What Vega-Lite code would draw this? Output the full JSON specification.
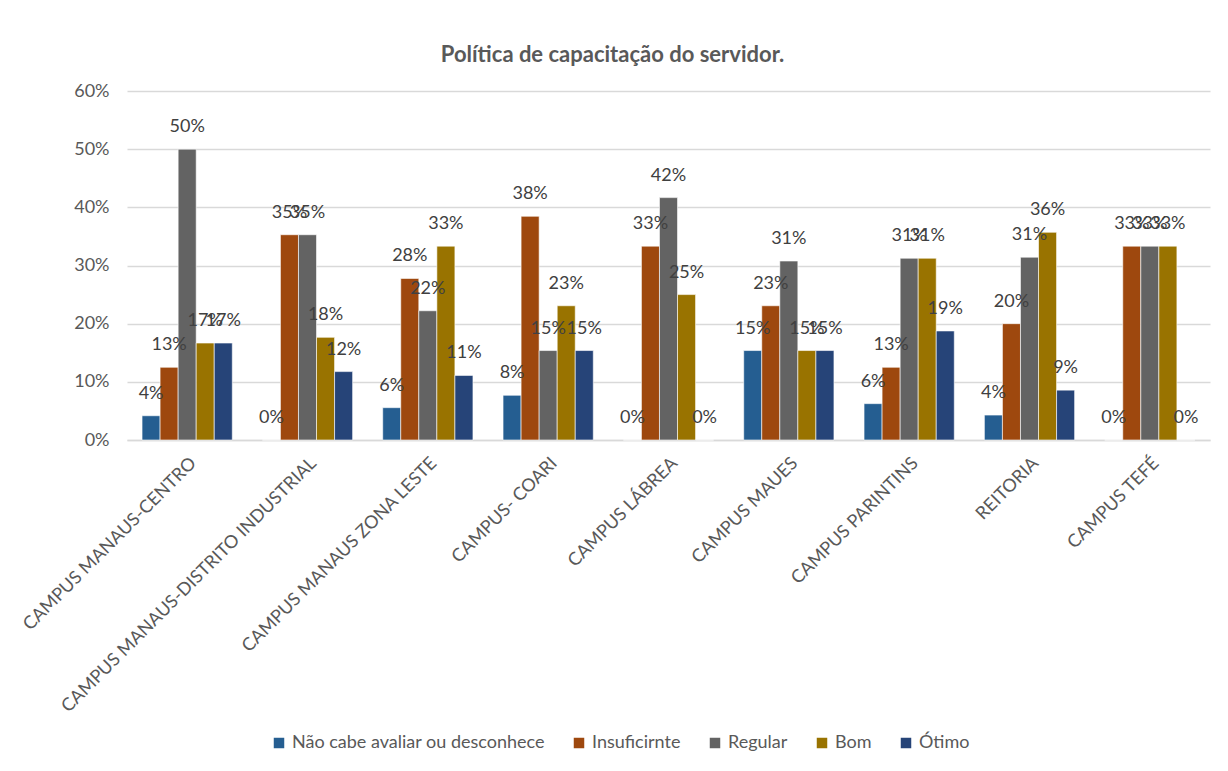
{
  "$schema": "https://vega.github.io/schema/vega-lite/v6.json",
  "width": 1083,
  "height": 349,
  "autosize": {"type": "none"},
  "padding": {"left": 127, "top": 91, "right": 18, "bottom": 331},
  "background": "white",
  "config": {
    "font": "Lato",
    "view": {"stroke": null}
  },
  "title": {
    "text": "Política de capacitação do servidor.",
    "font": "Lato",
    "fontSize": 22,
    "fontWeight": "bold",
    "color": "#595959",
    "anchor": "middle",
    "frame": "group",
    "dx": -56,
    "offset": 15
  },
  "data": {
    "values": [
      {"campus": "CAMPUS MANAUS-CENTRO", "serie": "Não cabe avaliar ou desconhece", "valor": 0.0417},
      {"campus": "CAMPUS MANAUS-CENTRO", "serie": "Insuficirnte", "valor": 0.125},
      {"campus": "CAMPUS MANAUS-CENTRO", "serie": "Regular", "valor": 0.5},
      {"campus": "CAMPUS MANAUS-CENTRO", "serie": "Bom", "valor": 0.1667},
      {"campus": "CAMPUS MANAUS-CENTRO", "serie": "Ótimo", "valor": 0.1667},
      {"campus": "CAMPUS MANAUS-DISTRITO INDUSTRIAL", "serie": "Não cabe avaliar ou desconhece", "valor": 0},
      {"campus": "CAMPUS MANAUS-DISTRITO INDUSTRIAL", "serie": "Insuficirnte", "valor": 0.3529},
      {"campus": "CAMPUS MANAUS-DISTRITO INDUSTRIAL", "serie": "Regular", "valor": 0.3529},
      {"campus": "CAMPUS MANAUS-DISTRITO INDUSTRIAL", "serie": "Bom", "valor": 0.1765},
      {"campus": "CAMPUS MANAUS-DISTRITO INDUSTRIAL", "serie": "Ótimo", "valor": 0.1176},
      {"campus": "CAMPUS MANAUS ZONA LESTE", "serie": "Não cabe avaliar ou desconhece", "valor": 0.0556},
      {"campus": "CAMPUS MANAUS ZONA LESTE", "serie": "Insuficirnte", "valor": 0.2778},
      {"campus": "CAMPUS MANAUS ZONA LESTE", "serie": "Regular", "valor": 0.2222},
      {"campus": "CAMPUS MANAUS ZONA LESTE", "serie": "Bom", "valor": 0.3333},
      {"campus": "CAMPUS MANAUS ZONA LESTE", "serie": "Ótimo", "valor": 0.1111},
      {"campus": "CAMPUS- COARI", "serie": "Não cabe avaliar ou desconhece", "valor": 0.0769},
      {"campus": "CAMPUS- COARI", "serie": "Insuficirnte", "valor": 0.3846},
      {"campus": "CAMPUS- COARI", "serie": "Regular", "valor": 0.1538},
      {"campus": "CAMPUS- COARI", "serie": "Bom", "valor": 0.2308},
      {"campus": "CAMPUS- COARI", "serie": "Ótimo", "valor": 0.1538},
      {"campus": "CAMPUS LÁBREA", "serie": "Não cabe avaliar ou desconhece", "valor": 0},
      {"campus": "CAMPUS LÁBREA", "serie": "Insuficirnte", "valor": 0.3333},
      {"campus": "CAMPUS LÁBREA", "serie": "Regular", "valor": 0.4167},
      {"campus": "CAMPUS LÁBREA", "serie": "Bom", "valor": 0.25},
      {"campus": "CAMPUS LÁBREA", "serie": "Ótimo", "valor": 0},
      {"campus": "CAMPUS MAUES", "serie": "Não cabe avaliar ou desconhece", "valor": 0.1538},
      {"campus": "CAMPUS MAUES", "serie": "Insuficirnte", "valor": 0.2308},
      {"campus": "CAMPUS MAUES", "serie": "Regular", "valor": 0.3077},
      {"campus": "CAMPUS MAUES", "serie": "Bom", "valor": 0.1538},
      {"campus": "CAMPUS MAUES", "serie": "Ótimo", "valor": 0.1538},
      {"campus": "CAMPUS PARINTINS", "serie": "Não cabe avaliar ou desconhece", "valor": 0.0625},
      {"campus": "CAMPUS PARINTINS", "serie": "Insuficirnte", "valor": 0.125},
      {"campus": "CAMPUS PARINTINS", "serie": "Regular", "valor": 0.3125},
      {"campus": "CAMPUS PARINTINS", "serie": "Bom", "valor": 0.3125},
      {"campus": "CAMPUS PARINTINS", "serie": "Ótimo", "valor": 0.1875},
      {"campus": "REITORIA", "serie": "Não cabe avaliar ou desconhece", "valor": 0.0429},
      {"campus": "REITORIA", "serie": "Insuficirnte", "valor": 0.2},
      {"campus": "REITORIA", "serie": "Regular", "valor": 0.3143},
      {"campus": "REITORIA", "serie": "Bom", "valor": 0.3571},
      {"campus": "REITORIA", "serie": "Ótimo", "valor": 0.0857},
      {"campus": "CAMPUS TEFÉ", "serie": "Não cabe avaliar ou desconhece", "valor": 0},
      {"campus": "CAMPUS TEFÉ", "serie": "Insuficirnte", "valor": 0.3333},
      {"campus": "CAMPUS TEFÉ", "serie": "Regular", "valor": 0.3333},
      {"campus": "CAMPUS TEFÉ", "serie": "Bom", "valor": 0.3333},
      {"campus": "CAMPUS TEFÉ", "serie": "Ótimo", "valor": 0}
    ]
  },
  "encoding": {
    "x": {
      "field": "campus",
      "type": "nominal",
      "sort": null,
      "title": null,
      "scale": {"paddingInner": 0.25, "paddingOuter": 0.125},
      "axis": {
        "labelAngle": -45,
        "labelFontSize": 18,
        "labelColor": "#595959",
        "labelPadding": 14,
        "ticks": false,
        "domainColor": "#d9d9d9",
        "domainWidth": 1.5,
        "labelLimit": 400
      }
    },
    "xOffset": {
      "field": "serie",
      "type": "nominal",
      "sort": ["Não cabe avaliar ou desconhece", "Insuficirnte", "Regular", "Bom", "Ótimo"],
      "scale": {"paddingInner": 0, "paddingOuter": 0}
    },
    "y": {
      "field": "valor",
      "type": "quantitative",
      "title": null,
      "scale": {"domain": [0, 0.6]},
      "axis": {
        "values": [0, 0.1, 0.2, 0.3, 0.4, 0.5, 0.6],
        "format": ".0%",
        "labelFontSize": 18,
        "labelColor": "#595959",
        "labelPadding": 18,
        "ticks": false,
        "domain": false,
        "gridColor": "#d9d9d9",
        "gridWidth": 1.5
      }
    }
  },
  "layer": [
    {
      "mark": {"type": "bar", "stroke": "white", "strokeWidth": 0.6},
      "encoding": {
        "color": {
          "field": "serie",
          "type": "nominal",
          "title": null,
          "scale": {
            "domain": ["Não cabe avaliar ou desconhece", "Insuficirnte", "Regular", "Bom", "Ótimo"],
            "range": ["#255e91", "#9e480e", "#636363", "#997300", "#264478"]
          },
          "legend": {
            "orient": "none",
            "direction": "horizontal",
            "legendX": 143,
            "legendY": 643,
            "symbolType": "square",
            "symbolSize": 110,
            "symbolStrokeWidth": 0,
            "labelFontSize": 18,
            "labelColor": "#595959",
            "labelLimit": 400,
            "columnPadding": 25,
            "labelOffset": 4
          }
        }
      }
    },
    {
      "mark": {"type": "text", "baseline": "middle", "dy": -22, "fontSize": 18, "color": "#404040"},
      "encoding": {
        "text": {"field": "valor", "type": "quantitative", "format": ".0%"}
      }
    }
  ]
}
